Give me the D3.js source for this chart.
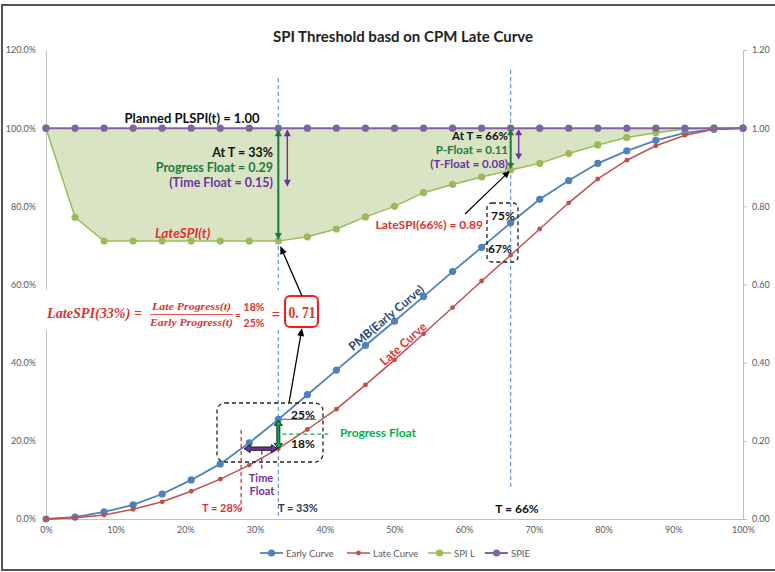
<!DOCTYPE html>
<html>
<head>
<meta charset="utf-8">
<script src="https://cdn.jsdelivr.net/npm/d3@7"></script>
<style>
  body { margin: 0; background: #fff; }
  svg text { font-family: Lato, "Open Sans", sans-serif; }
  .serif { font-family: "Liberation Serif", "DejaVu Serif", serif !important; font-style: italic; font-weight: bold; }
  .serif.upright { font-style: normal; }
</style>
</head>
<body>
<svg id="chart" width="775" height="572"></svg>
<script>
// ---- data ----
const timePoints = d3.range(25).map(i => i / 24);
const earlyCurve = [0, 0.005, 0.018, 0.036, 0.064, 0.100, 0.141, 0.195, 0.255, 0.318, 0.381, 0.444, 0.506,
                    0.569, 0.633, 0.695, 0.758, 0.818, 0.866, 0.910, 0.942, 0.969, 0.988, 0.997, 1.0];
const lateCurve  = [0, 0.003, 0.010, 0.025, 0.044, 0.071, 0.102, 0.138, 0.180, 0.229, 0.281, 0.343, 0.407,
                    0.474, 0.541, 0.609, 0.675, 0.742, 0.809, 0.870, 0.918, 0.955, 0.982, 0.997, 1.0];
const spiL       = [1.0, 0.772, 0.711, 0.711, 0.711, 0.711, 0.711, 0.711, 0.711, 0.722, 0.742, 0.773, 0.800,
                    0.835, 0.856, 0.875, 0.893, 0.910, 0.935, 0.957, 0.976, 0.988, 0.998, 1.0, 1.0];
const spiE       = timePoints.map(() => 1.0);

const leftTicks = [0, 0.2, 0.4, 0.6, 0.8, 1.0, 1.2];
const xTicks = [0, 0.1, 0.2, 0.3, 0.4, 0.5, 0.6, 0.7, 0.8, 0.9, 1.0];
const legendItems = ["Early Curve", "Late Curve", "SPI L", "SPIE"];

// annotation values
const T33 = 8, T66 = 16, T28 = 0.28;
const timeFloat33 = 0.15, timeFloat66 = 0.08;

const COLORS = {
  blue: "#4f81bd", red: "#c0504d", green: "#9bbb59", purple: "#8064a2",
  txtRed: "#e0312f", darkGreen: "#1e7a3c", brightGreen: "#00b050", txtPurple: "#7030a0",
  dash: "#5b9bd5", axis: "#bfbfbf", label: "#595959"
};

const svg = d3.select("#chart");

const x = d3.scaleLinear().domain([0, 1]).range([46, 743]);
const y = d3.scaleLinear().domain([0, 1.2]).range([519, 50]);

// outer frame
svg.append("rect").attr("x", 2).attr("y", 5).attr("width", 790).attr("height", 565)
  .attr("fill", "none").attr("stroke", "#555").attr("stroke-width", 2);

// title
svg.append("text").attr("x", 403).attr("y", 42).attr("text-anchor", "middle")
  .attr("font-size", 15).attr("font-weight", "bold").attr("fill", "#222")
  .text("SPI Threshold basd on CPM Late Curve");

// ---- area between SPI L and 1.00 ----
const area = d3.area()
  .x((d, i) => x(timePoints[i]))
  .y0(() => y(1))
  .y1(d => y(d));
svg.append("path").datum(spiL).attr("d", area).attr("fill", "#d8e4c4");

// ---- axes ----
const gL = svg.append("g").attr("transform", `translate(${x(0)},0)`)
  .call(d3.axisLeft(y).tickValues(leftTicks).tickFormat(d3.format(".1%")).tickSize(0).tickPadding(10));
const gR = svg.append("g").attr("transform", `translate(${x(1)},0)`)
  .call(d3.axisRight(y).tickValues(leftTicks).tickFormat(d3.format(".2f")).tickSize(4).tickPadding(5));
const gX = svg.append("g").attr("transform", `translate(0,${y(0)})`)
  .call(d3.axisBottom(x).tickValues(xTicks).tickFormat(d3.format(".0%")).tickSize(0).tickPadding(8));
[gL, gR, gX].forEach(g => {
  g.select(".domain").attr("stroke", COLORS.axis);
  g.selectAll(".tick line").attr("stroke", COLORS.axis);
  g.selectAll("text").attr("fill", COLORS.label).attr("font-size", 9)
    .attr("font-family", "Lato, sans-serif");
});

// ---- dashed guide lines ----
const dashLine = (x1, y1, x2, y2, color, w = 1.2, dash = "4,3") =>
  svg.append("line").attr("x1", x1).attr("y1", y1).attr("x2", x2).attr("y2", y2)
    .attr("stroke", color).attr("stroke-width", w).attr("stroke-dasharray", dash);

dashLine(x(timePoints[T33]), 78, x(timePoints[T33]), y(0) - 2, COLORS.dash);
dashLine(x(timePoints[T66]), 70, x(timePoints[T66]), 487, COLORS.dash);

// ---- series ----
const line = d3.line().x((d, i) => x(timePoints[i])).y(d => y(d));
const series = [
  { vals: earlyCurve, color: COLORS.blue, w: 1.8, r: 3.6 },
  { vals: lateCurve, color: COLORS.red, w: 1.5, r: 2.4 },
  { vals: spiL, color: COLORS.green, w: 1.5, r: 3.6 },
  { vals: spiE, color: COLORS.purple, w: 2, r: 3.6 }
];
series.forEach(s => {
  svg.append("path").datum(s.vals).attr("d", line)
    .attr("fill", "none").attr("stroke", s.color).attr("stroke-width", s.w);
  svg.append("g").selectAll("circle").data(s.vals).enter().append("circle")
    .attr("cx", (d, i) => x(timePoints[i])).attr("cy", d => y(d))
    .attr("r", s.r).attr("fill", s.color);
});

// ---- helpers ----
function arrowPath(x1, y1, x2, y2, sw, hl, hw, both) {
  const dx = x2 - x1, dy = y2 - y1, L = Math.hypot(dx, dy);
  const ux = dx / L, uy = dy / L, nx = -uy, ny = ux;
  const P = (s, n) => [x1 + ux * s + nx * n, y1 + uy * s + ny * n];
  const s1 = L - hl, pts = [];
  if (both) pts.push(P(0, 0), P(hl, hw), P(hl, sw / 2)); else pts.push(P(0, sw / 2));
  pts.push(P(s1, sw / 2), P(s1, hw), P(L, 0), P(s1, -hw), P(s1, -sw / 2));
  if (both) pts.push(P(hl, -sw / 2), P(hl, -hw)); else pts.push(P(0, -sw / 2));
  return "M" + pts.map(p => p.join(",")).join("L") + "Z";
}
function arrow(x1, y1, x2, y2, { color = "#000", sw = 1.3, hl = 7, hw = 3.5, both = false, outline = null } = {}) {
  svg.append("path").attr("d", arrowPath(x1, y1, x2, y2, sw, hl, hw, both))
    .attr("fill", color).attr("stroke", outline || "none").attr("stroke-width", outline ? 0.9 : 0);
}
function label(txt, px, py, { anchor = "start", size = 12, color = "#111", weight = "bold", italic = false, rotate = 0, cls = null } = {}) {
  const t = svg.append("text").attr("x", px).attr("y", py).attr("text-anchor", anchor)
    .attr("font-size", size).attr("font-weight", weight).attr("fill", color).text(txt);
  if (italic) t.attr("font-style", "italic");
  if (rotate) t.attr("transform", `rotate(${rotate},${px},${py})`);
  if (cls) t.attr("class", cls);
  return t;
}
const fit = (t, len) => t.attr("textLength", len).attr("lengthAdjust", "spacingAndGlyphs");

const x33 = x(timePoints[T33]), x66 = x(timePoints[T66]);

// ---- top annotations (T = 33%) ----
label("Planned PLSPI(t) = 1.00", 192, 123, { anchor: "middle", size: 13 });
arrow(x33, y(1) + 1, x33, y(spiL[T33]) - 1, { color: COLORS.darkGreen, sw: 2, hl: 7, hw: 3.5, both: true });
arrow(x33 + 9, y(1) + 1, x33 + 9, y(1 - timeFloat33), { color: COLORS.txtPurple, sw: 1.4, hl: 7, hw: 3.5, both: true });
label("At T = 33%", 273, 157, { anchor: "end", size: 12.5 });
label("Progress Float = 0.29", 273, 172, { anchor: "end", size: 12.5, color: COLORS.darkGreen });
label("(Time Float = 0.15)", 273, 187, { anchor: "end", size: 12.5, color: COLORS.txtPurple });
label("LateSPI(t)", 155, 238, { size: 13.5, color: COLORS.txtRed, italic: true });

// ---- top annotations (T = 66%) ----
arrow(x66, y(1) + 1, x66, y(spiL[T66]) - 1, { color: COLORS.darkGreen, sw: 2, hl: 6, hw: 3.5, both: true });
arrow(x66 + 8, y(1) + 1, x66 + 8, y(1 - timeFloat66), { color: COLORS.txtPurple, sw: 1.4, hl: 6, hw: 3.5, both: true });
label("At T = 66%", 508, 140, { anchor: "end", size: 11.5 });
label("P-Float = 0.11", 508, 154, { anchor: "end", size: 11.5, color: COLORS.darkGreen });
label("(T-Float = 0.08)", 508, 168, { anchor: "end", size: 11.5, color: COLORS.txtPurple });

label("LateSPI(66%) = 0.89", 483, 229, { anchor: "end", size: 12, color: COLORS.txtRed });
arrow(465, 214, x66 - 1, y(spiL[T66]) + 1, { sw: 1.2, hl: 7, hw: 3.5 });

// dashed box around 75% / 67%
svg.append("rect").attr("x", 487).attr("y", 203).attr("width", 31).attr("height", 59).attr("rx", 5)
  .attr("fill", "none").attr("stroke", "#222").attr("stroke-width", 1.3).attr("stroke-dasharray", "4,3");
label("75%", 503, 220, { anchor: "middle", size: 12 });
label("67%", 500, 253, { anchor: "middle", size: 12 });

// ---- curve labels ----
label("PMB(Early Curve)", 389, 321, { anchor: "middle", size: 12, color: "#1f497d", rotate: -40 });
label("Late Curve", 406, 347, { anchor: "middle", size: 12, color: COLORS.txtRed, rotate: -42 });

// ---- formula ----
svg.append("rect").attr("x", 40).attr("y", 290).attr("width", 242).attr("height", 40).attr("fill", "#fff");
fit(label("LateSPI(33%) =", 47, 318, { size: 15.5, color: COLORS.txtRed, cls: "serif" }), 95);
fit(label("Late Progress(t)", 152, 310, { size: 10.5, color: COLORS.txtRed, cls: "serif" }), 79);
fit(label("Early Progress(t)", 150, 326, { size: 10.5, color: COLORS.txtRed, cls: "serif" }), 83);
svg.append("line").attr("x1", 150).attr("x2", 233).attr("y1", 314.5).attr("y2", 314.5)
  .attr("stroke", COLORS.txtRed).attr("stroke-width", 0.8);
label("=", 238, 319, { anchor: "middle", size: 10, color: COLORS.txtRed });
label("18%", 254, 311, { anchor: "middle", size: 10.5, color: COLORS.txtRed });
label("25%", 254, 327, { anchor: "middle", size: 10.5, color: COLORS.txtRed });
label("=", 276, 320, { anchor: "middle", size: 16, color: COLORS.txtRed, weight: "normal" });
svg.append("rect").attr("x", 285).attr("y", 296).attr("width", 33).attr("height", 31).attr("rx", 5)
  .attr("fill", "#fff").attr("stroke", "#ff1a1a").attr("stroke-width", 2);
fit(label("0. 71", 288.5, 318, { size: 17, color: COLORS.txtRed, cls: "serif upright" }), 27);

// arrows to/from the box
arrow(302, 296, x33 + 2, y(spiL[T33]) + 5, { sw: 1.3, hl: 8, hw: 3.5 });
arrow(289, 403, 302, 328, { sw: 1.3, hl: 8, hw: 3.5 });

// ---- lower zoom box ----
svg.append("rect").attr("x", 217).attr("y", 403).attr("width", 106).attr("height", 59).attr("rx", 8)
  .attr("fill", "none").attr("stroke", "#222").attr("stroke-width", 1.3).attr("stroke-dasharray", "4,3");
svg.append("line").attr("x1", x33).attr("x2", 316).attr("y1", y(earlyCurve[T33])).attr("y2", y(earlyCurve[T33]))
  .attr("stroke", COLORS.blue).attr("stroke-width", 1.2);
label("25%", 303, 419, { anchor: "middle", size: 12 });
label("18%", 303, 448, { anchor: "middle", size: 12 });

dashLine(x(T28), 430, x(T28), 512, "#e03030", 1.3);
const xMid = (x(T28) + x33) / 2 + 2;
dashLine(xMid, y(lateCurve[T33]) + 2, xMid, 470, COLORS.txtPurple, 1.3);
dashLine(x33 + 4, y(0.217), 331, y(0.217), COLORS.brightGreen, 1.3);

arrow(x33, y(earlyCurve[T33]) + 1, x33, y(lateCurve[T33]), { color: COLORS.brightGreen, sw: 3, hl: 5, hw: 4, both: true, outline: "#111" });
arrow(x(T28) + 3, y(lateCurve[T33]), x33 - 1, y(lateCurve[T33]), { color: COLORS.txtPurple, sw: 3.4, hl: 6, hw: 4, both: true, outline: "#111" });

label("Progress Float", 340, 437, { size: 12, color: COLORS.brightGreen });
label("Time", 261, 482, { anchor: "middle", size: 11, color: COLORS.txtPurple });
label("Float", 262, 495, { anchor: "middle", size: 11, color: COLORS.txtPurple });
label("T = 28%", 222, 512, { anchor: "middle", size: 11, color: "#e03030" });
label("T = 33%", 298, 512, { anchor: "middle", size: 11, color: "#1f3864" });
label("T = 66%", 517, 513, { anchor: "middle", size: 12, color: "#111" });

// ---- legend ----
const legendX = [260, 347, 428, 485];
legendItems.forEach((name, i) => {
  const s = series[i], lx = legendX[i], ly = 553;
  svg.append("line").attr("x1", lx).attr("x2", lx + 23).attr("y1", ly).attr("y2", ly)
    .attr("stroke", s.color).attr("stroke-width", s.w);
  svg.append("circle").attr("cx", lx + 11.5).attr("cy", ly).attr("r", s.r).attr("fill", s.color);
  svg.append("text").attr("x", lx + 26).attr("y", ly + 3.5).attr("font-size", 9.5)
    .attr("fill", COLORS.label).text(name);
});
</script>
</body>
</html>
